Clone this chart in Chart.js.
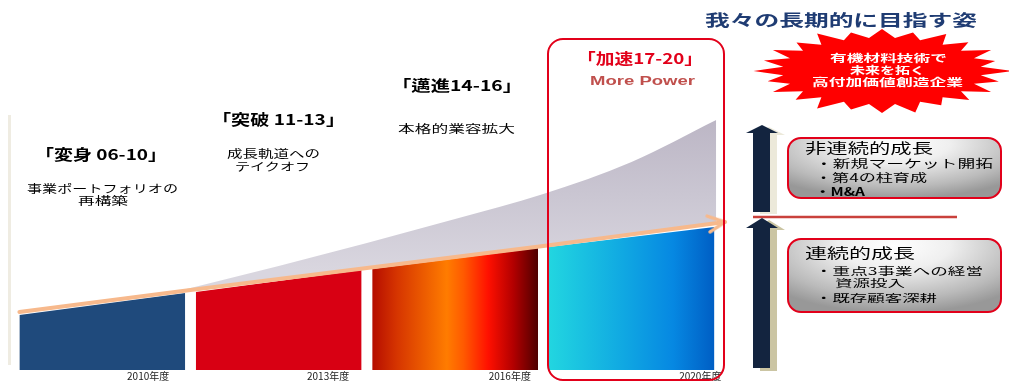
<!DOCTYPE html>
<html><head><meta charset="utf-8">
<script src="https://cdn.jsdelivr.net/npm/chart.js@4.4.1/dist/chart.umd.min.js"></script>
<style>
html,body{margin:0;padding:0;background:#fff;}
#wrap{position:relative;width:1009px;height:382px;overflow:hidden;font-family:"Noto Sans CJK JP","Noto Sans",sans-serif;}
#c{position:absolute;left:0;top:0;}
.t{position:absolute;white-space:nowrap;line-height:1;transform-origin:0 50%;}
.box{position:absolute;box-sizing:border-box;border:2.5px solid #e2001a;border-radius:14px;
 background:radial-gradient(ellipse 75% 95% at 50% 8%,#ffffff 0%,#efefef 35%,#bababa 78%,#989898 100%);}
</style></head><body>
<div id="wrap">
<canvas id="c" width="1009" height="382"></canvas>
<div style="position:absolute;left:8px;top:115px;width:3px;height:250px;background:#efece2"></div>
<div style="position:absolute;left:547px;top:38px;width:178px;height:343px;box-sizing:border-box;border:2.5px solid #e2001a;border-radius:16px"></div>
<svg id="deco" width="1009" height="382" style="position:absolute;left:0;top:0">
 <polygon points="769,127 785,135 777,135 777,214 760,214 760,135 753,135" fill="#ece9da"/>
 <polygon points="762,125 778,133 770,133 770,212 753,212 753,133 746,133" fill="#13243f"/>
 <line x1="753" y1="217" x2="957" y2="217" stroke="#c9413c" stroke-width="2.6"/>
 <polygon points="769,220 785,230 777,230 777,371 760,371 760,230 753,230" fill="#cbc5a3"/>
 <polygon points="762,218 778,228 770,228 770,368 753,368 753,228 746,228" fill="#13243f"/>
 <polygon id="burst" fill="#ff0000"/>
</svg>
<div class="box" style="left:787px;top:137px;width:215px;height:62px"></div>
<div class="box" style="left:787px;top:238px;width:215px;height:75px"></div>
</div>
<script>
// ---- data ----
const periods = ['「変身 06-10」','「突破 11-13」','「邁進14-16」','「加速17-20」'];
const periodIndex = [0, 1, 2, 3];
const barTopStart = [55, 78, 101, 123];
const barTopEnd   = [77, 100, 122, 143];
const trendX = [0.03, 1.0, 2.0, 3.0, 4.03];
const trendY = [58, 80, 102, 124, 148];
const potentialX = [0.91, 1.5, 2.0, 2.5, 3.0, 3.5, 3.98];
const potentialY = [78, 104, 127, 151, 176, 208, 250];
const yearLabels = ['2010年度','2013年度','2016年度','2020年度'];
const yearTickAt = [0.76, 1.78, 2.81, 3.89];

// ---- chart ----
const chev = document.createElement('canvas'); chev.width = 44; chev.height = 44;
(function(){const c=chev.getContext('2d');c.strokeStyle='#f7b98c';c.lineWidth=3.5;c.lineCap='round';c.lineJoin='round';
c.beginPath();c.moveTo(5,14);c.lineTo(22,22);c.lineTo(6,30);c.stroke();})();

function hGrad(x0v, x1v, stops){
  return function(ctx){
    const ch = ctx.chart; if(!ch.chartArea) return stops[0][1];
    const xs = ch.scales.x; const g = ch.ctx.createLinearGradient(xs.getPixelForValue(x0v),0,xs.getPixelForValue(x1v),0);
    stops.forEach(s=>g.addColorStop(s[0], s[1])); return g;
  };
}
function bar(i, bg){
  return {data:[{x:periodIndex[i]+0.03,y:barTopStart[i]},{x:periodIndex[i]+0.97,y:barTopEnd[i]}],
    fill:'origin', backgroundColor:bg, borderColor:'transparent', borderWidth:0, pointRadius:0, tension:0};
}
const trend = trendX.map((x,i)=>({x, y:trendY[i]}));
const potential = potentialX.map((x,i)=>({x, y:potentialY[i]}));
const last = trend.length-1;

new Chart(document.getElementById('c'), {
  type:'line',
  data:{datasets:[
    {data:trend, borderColor:'#f7b98c', borderWidth:4, fill:false, tension:0, borderCapStyle:'round',
     pointRadius:c=>c.dataIndex===last?4:0, pointStyle:c=>c.dataIndex===last?chev:'circle', pointRotation:-7},
    bar(0,'#1f4a7c'),
    bar(1,'#d80013'),
    bar(2,hGrad(2.03,2.97,[[0,'#b50d00'],[0.15,'#d63500'],[0.45,'#ff7c00'],[0.55,'#ff5a00'],[0.7,'#ff1000'],[0.85,'#b30000'],[1,'#4e0000']])),
    bar(3,hGrad(3.03,3.97,[[0,'#22d6e0'],[0.45,'#10a8e2'],[0.75,'#0688e2'],[1,'#005ec4']])),
    {data:potential, fill:0, borderColor:'transparent', borderWidth:0, pointRadius:0, tension:0.4, cubicInterpolationMode:'monotone',
     backgroundColor:function(ctx){const ch=ctx.chart; if(!ch.chartArea) return '#c8c3cf'; const ys=ch.scales.y;
       const g=ch.ctx.createLinearGradient(0,ys.getPixelForValue(250),0,ys.getPixelForValue(100));
       g.addColorStop(0,'#bcb6c5'); g.addColorStop(0.5,'#cac6d2'); g.addColorStop(1,'#d9d6df'); return g;}}
  ]},
  options:{responsive:false, animation:false, events:[],
    layout:{padding:0, autoPadding:false},
    plugins:{legend:{display:false}, tooltip:{enabled:false}},
    scales:{
      x:{type:'linear', min:-0.08, max:5.64,
         grid:{display:false, drawTicks:false}, border:{display:false},
         afterBuildTicks:a=>{a.ticks = yearTickAt.map(v=>({value:v}));},
         ticks:{autoSkip:false, maxRotation:0, padding:0, color:'#222', font:{size:10, family:'"Noto Sans CJK JP"'},
           callback:(v,i)=>yearLabels[i]}},
      y:{display:false, min:0, max:370}
    }
  }
});

// ---- starburst ----
(function(){const cx=882,cy=71,rx=126,ry=42,N=24,p=[];
const jit=[1,0.95,1.02,0.97,1,0.93,1.03,0.96,1,0.98,0.94,1.02,1,0.95,1.03,0.97,1,0.94,1.02,0.97,1,0.96,1.03,0.95];
for(let i=0;i<2*N;i++){const a=-Math.PI/2+i*Math.PI/N;const r=i%2===0?jit[i/2]:0.79;p.push((cx+rx*r*Math.cos(a)).toFixed(1)+','+(cy+ry*r*Math.sin(a)).toFixed(1));}
document.getElementById('burst').setAttribute('points',p.join(' '));})();

// ---- texts ----
const wrap=document.getElementById('wrap'); const items=[];
function put(text,x,w,cy,size,weight,color,family){
  const s=document.createElement('div'); s.className='t'; s.textContent=text;
  s.style.left=x+'px'; s.style.top=(cy-size/2)+'px'; s.style.fontSize=size+'px'; s.style.fontWeight=weight; s.style.color=color;
  if(family) s.style.fontFamily=family; s.dataset.w=w; wrap.appendChild(s); items.push(s);
}
put('我々の長期的に目指す姿',705,272,19,16,700,'#1f3c73');
put('有機材料技術で',830,117,58,10,700,'#fff');
put('未来を拓く',850,75,70,10,700,'#fff');
put('高付加価値創造企業',812,151,82,10,700,'#fff');
put(periods[3],577,126,57,15,700,'#e2001a');
put('More Power',590,105,81,12,700,'#c0504d','"Liberation Sans",Arial,sans-serif');
put(periods[2],392,130,84,15,700,'#000');
put('本格的業容拡大',398,117,128,11,400,'#000');
put(periods[1],212,133,118,15,700,'#000');
put('成長軌道への',227,93,153,11,400,'#000');
put('テイクオフ',235,75,166,11,400,'#000');
put(periods[0],35,132,153,15,700,'#000');
put('事業ポートフォリオの',27,151,188,11,400,'#000');
put('再構築',78,50,200,11,400,'#000');
put('非連続的成長',805,128,148,13.5,400,'#000');
put('・新規マーケット開拓',815,178,164,11.5,400,'#000');
put('・第4の柱育成',815,112,178,11.5,400,'#000');
put('・M&A',815,50,191,11,700,'#000');
put('連続的成長',805,110,253,13.5,400,'#000');
put('・重点3事業への経営',815,168,271,10.5,400,'#000');
put('資源投入',835,70,283,10.5,400,'#000');
put('・既存顧客深耕',815,122,298,10.5,400,'#000');
function fit(){items.forEach(s=>{s.style.transform='none';const nw=s.getBoundingClientRect().width;s.style.transform='scaleX('+(s.dataset.w/nw)+')';});}
fit(); if(document.fonts&&document.fonts.ready) document.fonts.ready.then(fit);
</script>
</body></html>
